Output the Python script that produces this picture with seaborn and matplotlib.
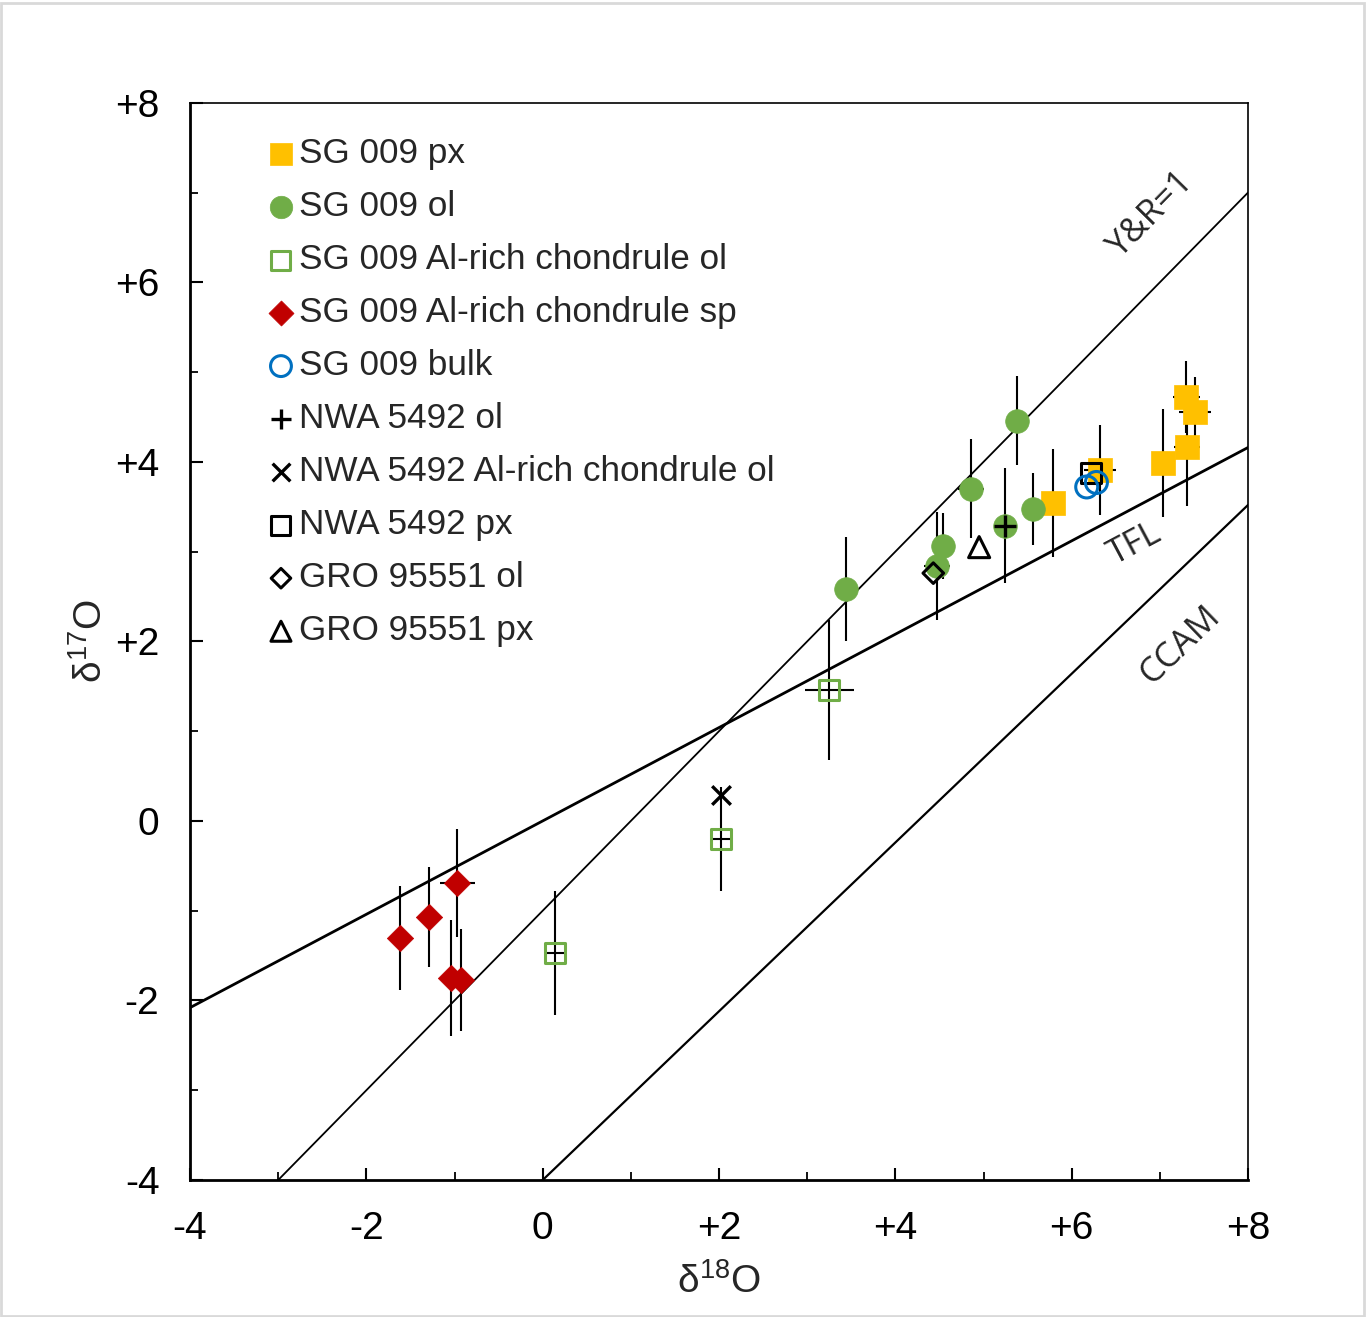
import numpy as np
import pandas as pd
import matplotlib
matplotlib.use("Agg")
import matplotlib.pyplot as plt
import seaborn as sns
from matplotlib.ticker import MultipleLocator, FixedLocator, FixedFormatter
from matplotlib.patches import Rectangle

# ---------------- data ----------------
sg_px_x = [5.79, 6.32, 7.04, 7.31, 7.30, 7.40]
sg_px_y = [3.54, 3.91, 3.99, 4.16, 4.72, 4.55]
sg_px_xerr = [0.10, 0.18, 0.10, 0.15, 0.15, 0.18]
sg_px_yerr = [0.60, 0.50, 0.60, 0.65, 0.40, 0.40]

sg_ol_x = [5.38, 4.86, 4.54, 4.47, 5.56, 5.24, 3.44]
sg_ol_y = [4.46, 3.70, 3.06, 2.84, 3.47, 3.29, 2.58]
sg_ol_xerr = [0.10, 0.15, 0.10, 0.15, 0.10, 0.10, 0.10]
sg_ol_yerr = [0.50, 0.55, 0.37, 0.60, 0.40, 0.64, 0.58]

sg_alol_x = [3.25, 2.02, 0.14]
sg_alol_y = [1.46, -0.20, -1.47]
sg_alol_xerr = [0.28, 0.10, 0.10]
sg_alol_yerr = [0.78, 0.58, 0.69]

sg_alsp_x = [-1.62, -1.29, -0.97, -1.04, -0.93]
sg_alsp_y = [-1.30, -1.07, -0.69, -1.75, -1.77]
sg_alsp_xerr = [0.10, 0.10, 0.20, 0.10, 0.10]
sg_alsp_yerr = [0.58, 0.56, 0.60, 0.65, 0.57]

sg_bulk_x = [6.17, 6.28]
sg_bulk_y = [3.72, 3.77]

nwa_ol_x = [5.24]
nwa_ol_y = [3.29]

nwa_alol_x = [2.02]
nwa_alol_y = [0.29]

nwa_px_x = [6.22]
nwa_px_y = [3.88]

gro_ol_x = [4.43]
gro_ol_y = [2.76]

gro_px_x = [4.95]
gro_px_y = [3.05]

# reference lines: name, slope, intercept
line_names = ["Y&R=1", "TFL", "CCAM"]
line_slopes = [1.0, 0.52, 0.94]
line_intercepts = [-1.0, 0.0, -4.0]

x_ticks = [-4, -2, 0, 2, 4, 6, 8]
x_tick_labels = ["-4", "-2", "0", "+2", "+4", "+6", "+8"]
y_ticks = [-4, -2, 0, 2, 4, 6, 8]
y_tick_labels = ["-4", "-2", "0", "+2", "+4", "+6", "+8"]

# ---------------- style ----------------
sns.set_style("ticks")
plt.rcParams["font.family"] = ["Liberation Sans", "DejaVu Sans"]
plt.rcParams["mathtext.default"] = "regular"

YELLOW = "#FFC000"
GREEN = "#70AD47"
RED = "#C00000"
BLUE = "#0070C0"

fig = plt.figure(figsize=(13.67, 13.17), dpi=100)
ax = fig.add_axes([0.139, 0.104, 0.774, 0.818])

ax.set_xlim(-4, 8)
ax.set_ylim(-4, 8)

# reference lines
xs = np.array([-4.0, 8.0])
line_widths = [1.3, 2.0, 1.6]
for name, m, b, lw in zip(line_names, line_slopes, line_intercepts, line_widths):
    sns.lineplot(x=xs, y=m * xs + b, color="black", linewidth=lw, ax=ax, zorder=1)

# error bars
for xv, yv, xe, ye in [
    (sg_px_x, sg_px_y, sg_px_xerr, sg_px_yerr),
    (sg_ol_x, sg_ol_y, sg_ol_xerr, sg_ol_yerr),
    (sg_alol_x, sg_alol_y, sg_alol_xerr, sg_alol_yerr),
    (sg_alsp_x, sg_alsp_y, sg_alsp_xerr, sg_alsp_yerr),
]:
    ax.errorbar(xv, yv, xerr=xe, yerr=ye, fmt="none", ecolor="black",
                elinewidth=1.5, capsize=0, zorder=2)

# points
sns.scatterplot(x=sg_px_x, y=sg_px_y, marker="s", s=275, color=YELLOW,
                edgecolor=YELLOW, linewidth=0.5, label="SG 009 px", ax=ax, zorder=3)
sns.scatterplot(x=sg_ol_x, y=sg_ol_y, marker="o", s=290, color=GREEN,
                edgecolor=GREEN, linewidth=0.5, label="SG 009 ol", ax=ax, zorder=3)
sns.scatterplot(x=sg_alol_x, y=sg_alol_y, marker="s", s=207, facecolor="none",
                edgecolor=GREEN, linewidth=2.2, label="SG 009 Al-rich chondrule ol", ax=ax, zorder=3)
sns.scatterplot(x=sg_alsp_x, y=sg_alsp_y, marker="D", s=180, color=RED,
                edgecolor=RED, linewidth=0.5, label="SG 009 Al-rich chondrule sp", ax=ax, zorder=3)
sns.scatterplot(x=sg_bulk_x, y=sg_bulk_y, marker="o", s=250, facecolor="none",
                edgecolor=BLUE, linewidth=2.2, label="SG 009 bulk", ax=ax, zorder=5)
sns.scatterplot(x=nwa_ol_x, y=nwa_ol_y, marker="+", s=230, color="black",
                linewidth=2.4, label="NWA 5492 ol", ax=ax, zorder=5)
sns.scatterplot(x=nwa_alol_x, y=nwa_alol_y, marker="x", s=180, color="black",
                linewidth=2.4, label="NWA 5492 Al-rich chondrule ol", ax=ax, zorder=5)
sns.scatterplot(x=nwa_px_x, y=nwa_px_y, marker="s", s=207, facecolor="none",
                edgecolor="black", linewidth=2.2, label="NWA 5492 px", ax=ax, zorder=4)
sns.scatterplot(x=gro_ol_x, y=gro_ol_y, marker="D", s=110, facecolor="none",
                edgecolor="black", linewidth=2.2, label="GRO 95551 ol", ax=ax, zorder=5)
sns.scatterplot(x=gro_px_x, y=gro_px_y, marker="^", s=230, facecolor="none",
                edgecolor="black", linewidth=2.2, label="GRO 95551 px", ax=ax, zorder=5)

# line labels
lab_font = ["Open Sans", "DejaVu Sans"]
ax.text(6.89, 6.75, "Y&R=1", rotation=45.5, ha="center", va="center",
        rotation_mode="anchor", fontsize=25, family=lab_font, fontweight="medium")
ax.text(6.72, 3.08, "TFL", rotation=28, ha="center", va="center",
        rotation_mode="anchor", fontsize=25, family=lab_font, fontweight="medium")
ax.text(7.23, 1.96, "CCAM", rotation=44, ha="center", va="center",
        rotation_mode="anchor", fontsize=25, family=lab_font, fontweight="medium")

# ticks
ax.xaxis.set_major_locator(FixedLocator(x_ticks))
ax.xaxis.set_major_formatter(FixedFormatter(x_tick_labels))
ax.yaxis.set_major_locator(FixedLocator(y_ticks))
ax.yaxis.set_major_formatter(FixedFormatter(y_tick_labels))
ax.xaxis.set_minor_locator(MultipleLocator(1))
ax.yaxis.set_minor_locator(MultipleLocator(1))
ax.tick_params(which="both", direction="in", top=False, right=False, colors="black")
ax.tick_params(which="major", length=9, width=1.5, labelsize=28, pad=22)
ax.tick_params(which="minor", length=6, width=1.3)

for side in ["left", "bottom"]:
    ax.spines[side].set_linewidth(2.0)
    ax.spines[side].set_color("black")
for side in ["top", "right"]:
    ax.spines[side].set_linewidth(1.2)
    ax.spines[side].set_color("black")
    ax.spines[side].set_visible(True)

ax.set_xlabel("δ$^{18}$O", fontsize=28, labelpad=12)
ax.set_ylabel("δ$^{17}$O", fontsize=28, labelpad=4)

leg = ax.legend(loc="upper left", bbox_to_anchor=(0.076, 0.968), frameon=False,
                fontsize=25.3, handlelength=0.6, handletextpad=0.22,
                labelspacing=0.57, borderpad=0, borderaxespad=0, markerscale=0.95)

fig.add_artist(Rectangle((0.001, 0.001), 0.997, 0.997, transform=fig.transFigure,
                         fill=False, edgecolor="#d9d9d9", linewidth=2))

fig.savefig("out.png", dpi=100)
